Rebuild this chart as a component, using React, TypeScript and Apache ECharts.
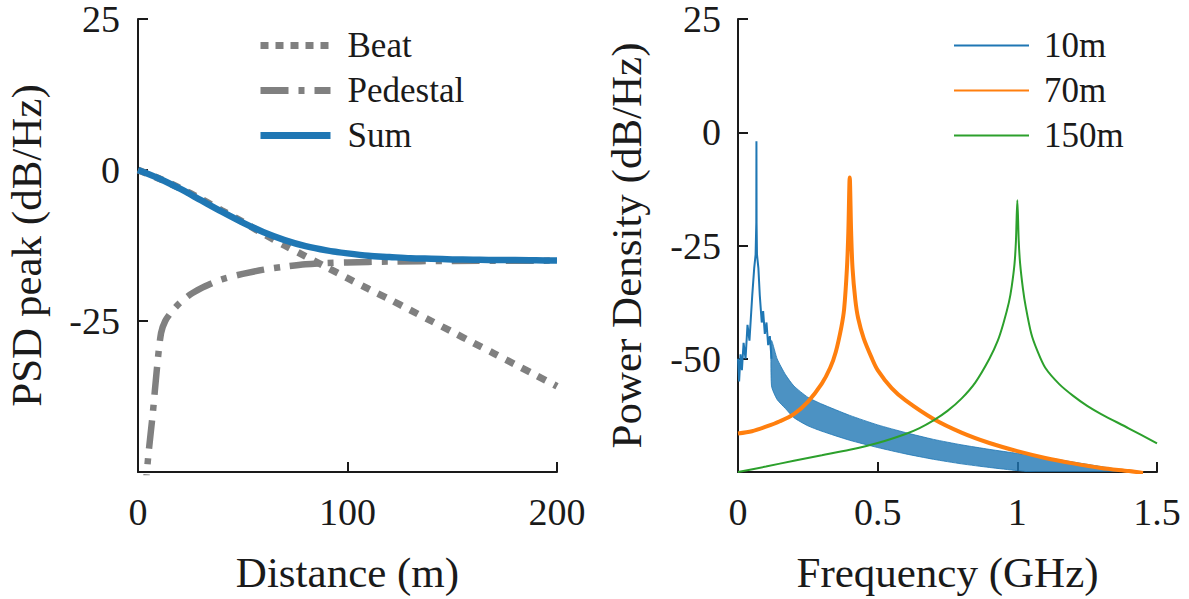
import React, { useEffect, useRef } from "react";
import * as echarts from "echarts";

// ---------- Left panel: PSD peak vs distance ----------
const distance = [0, 10, 20, 30, 40, 50, 60, 70, 80, 90, 100, 110, 120, 130, 140, 150, 160, 170, 180, 190, 200];
const beat = [0, -1.4, -3.0, -4.8, -6.7, -8.6, -10.6, -12.5, -14.3, -16.1, -17.9, -19.7, -21.4, -23.2, -25.0, -26.8, -28.6, -30.4, -32.2, -34.0, -35.8];
const sum = [0, -1.4, -3.1, -5.0, -6.9, -8.7, -10.3, -11.6, -12.6, -13.3, -13.8, -14.2, -14.4, -14.6, -14.7, -14.8, -14.85, -14.9, -14.9, -14.95, -15.0];
const pedestalDistance = [3, 5, 7, 9, 11, 13, 16, 20, 25, 30, 35, 40, 50, 60, 70, 80, 90, 100, 120, 150, 200];
const pedestal = [-55, -47, -40.5, -33, -27, -25, -23.5, -22, -20.6, -19.6, -18.8, -18.1, -17.2, -16.5, -16.0, -15.6, -15.4, -15.3, -15.15, -15.05, -15.0];

// ---------- Right panel: power density vs frequency ----------
const f10Lobe = [0, 0.004, 0.009, 0.014, 0.02, 0.027, 0.034, 0.041, 0.051, 0.058, 0.063, 0.0655, 0.066, 0.0665, 0.068, 0.073, 0.078, 0.085, 0.09, 0.096, 0.102, 0.108, 0.114, 0.12];
const p10Lobe = [-50, -55, -49, -52.5, -46.5, -50, -42.5, -46, -36, -30, -27, -20, -2, -20, -27, -30, -36, -42, -39.5, -44.5, -42, -47, -45, -50];
const f10Band = [0.12, 0.14, 0.17, 0.2, 0.25, 0.3, 0.4, 0.5, 0.6, 0.7, 0.8, 0.9, 1.0, 1.1, 1.2, 1.3, 1.4, 1.45];
const p10Upper = [-46, -50, -53.5, -56, -58.5, -60, -62.5, -64.6, -66.3, -67.8, -69.0, -70.0, -70.9, -71.8, -72.8, -73.8, -74.8, -75.3];
const p10Lower = [-56, -59, -61, -63, -64.8, -66, -68, -69.6, -71, -72.2, -73.2, -74, -74.7, -75.3, -75.8, -76.3, -76.8, -77];

const f70 = [0, 0.05, 0.1, 0.15, 0.2, 0.25, 0.3, 0.33, 0.35, 0.37, 0.38, 0.39, 0.395, 0.4, 0.405, 0.41, 0.42, 0.43, 0.45, 0.48, 0.5, 0.55, 0.6, 0.7, 0.8, 0.9, 1.0, 1.1, 1.2, 1.3, 1.4, 1.45];
const p70 = [-66.5, -66, -65, -63.8, -62.2, -59.5, -55.5, -52, -48.5, -43, -39, -30, -22, -10, -22, -30, -37, -41, -45.5, -50, -52.5, -56.5, -59.2, -63.3, -66.3, -68.6, -70.4, -71.9, -73.1, -74.1, -74.8, -75.2];

const f150 = [0, 0.1, 0.2, 0.3, 0.4, 0.5, 0.6, 0.65, 0.7, 0.75, 0.8, 0.85, 0.9, 0.93, 0.95, 0.97, 0.98, 0.99, 0.995, 1.0, 1.005, 1.01, 1.02, 1.03, 1.05, 1.07, 1.1, 1.15, 1.2, 1.25, 1.3, 1.4, 1.5];
const p150 = [-75, -73.8, -72.5, -71.3, -70.1, -68.6, -66.6, -65.3, -63.6, -61.5, -58.8, -55.2, -50, -46, -42.2, -37.5, -34, -29, -24, -15, -24, -29, -34.5, -38.5, -44.5, -48, -52, -55.6, -58.2, -60.4, -62.2, -65.4, -68.7];

const rightLegend = ["10m", "70m", "150m"];

const FONT = "'Liberation Serif', 'Times New Roman', serif";
const INK = "#1a1a1a";
const GREY = "#808080";
const BLUE = "#1f77b4";
const ORANGE = "#ff7f0e";
const GREEN = "#2ca02c";

const zip = (xs: number[], ys: number[]) => xs.map((x, i) => [x, ys[i]]);

function axisCommon() {
  return {
    axisLine: { show: true, onZero: false, lineStyle: { color: INK, width: 2 } },
    axisTick: { show: true, inside: true, length: 10, lineStyle: { color: INK, width: 2 } },
    splitLine: { show: false },
    axisLabel: { color: INK, fontFamily: FONT, fontSize: 38, lineHeight: 28 },
    nameTextStyle: { color: INK, fontFamily: FONT, fontSize: 43 },
    nameLocation: "middle" as const,
  };
}

export default function App() {
  const ref = useRef<HTMLDivElement>(null);
  useEffect(() => {
    document.body.style.margin = "0";
    if (!ref.current) return;
    const chart = echarts.init(ref.current, undefined, { renderer: "svg" });
    const c = axisCommon();
    const legendText = { fontFamily: FONT, fontSize: 35, color: INK, lineHeight: 35 };
    const option: any = {
      animation: false,
      backgroundColor: "#ffffff",
      textStyle: { fontFamily: FONT },
      grid: [
        { left: 138, top: 15, width: 419, height: 457 },
        { left: 738, top: 15, width: 419, height: 457 },
      ],
      xAxis: [
        {
          ...c, type: "value", gridIndex: 0, min: 0, max: 200, interval: 100,
          name: "Distance (m)", nameGap: 79,
          axisLabel: { ...c.axisLabel, margin: 26 },
        },
        {
          ...c, type: "value", gridIndex: 1, min: 0, max: 1.5, interval: 0.5,
          name: "Frequency (GHz)", nameGap: 79,
          axisLabel: { ...c.axisLabel, margin: 26, formatter: (v: number) => String(v) },
        },
      ],
      yAxis: [
        {
          ...c, type: "value", gridIndex: 0, min: -50, max: 25, interval: 25,
          name: "PSD peak (dB/Hz)", nameGap: 90,
          axisLabel: { ...c.axisLabel, margin: 18, formatter: (v: number) => (v === -50 ? "" : String(v)) },
        },
        {
          ...c, type: "value", gridIndex: 1, min: -75, max: 25, interval: 25,
          name: "Power Density (dB/Hz)", nameGap: 90,
          axisLabel: { ...c.axisLabel, margin: 17, formatter: (v: number) => (v === -75 ? "" : String(v)) },
        },
      ],
      legend: [
        {
          data: [
            { name: "Beat", lineStyle: { width: 7, type: [8, 7], color: GREY } },
            { name: "Pedestal", lineStyle: { width: 7, type: [28, 10, 6, 10], color: GREY } },
            { name: "Sum", lineStyle: { width: 7, color: BLUE } },
          ],
          orient: "vertical", left: 257, top: 28, padding: 0,
          itemWidth: 70, itemHeight: 14, itemGap: 10,
          itemStyle: { opacity: 0 },
          textStyle: { ...legendText, padding: [0, 0, 0, 12] },
        },
        {
          data: rightLegend.map((n) => ({ name: n, lineStyle: { width: 2 } })),
          orient: "vertical", left: 953, top: 28, padding: 0,
          itemWidth: 75, itemHeight: 14, itemGap: 10,
          itemStyle: { opacity: 0 },
          textStyle: { ...legendText, padding: [0, 0, 0, 10] },
        },
      ],
      series: [
        {
          name: "Beat", type: "line", xAxisIndex: 0, yAxisIndex: 0, showSymbol: false, symbol: "none",
          smooth: 0.3, data: zip(distance, beat),
          lineStyle: { color: GREY, width: 7, type: [9, 9] }, itemStyle: { color: GREY }, z: 2,
        },
        {
          name: "Pedestal", type: "line", xAxisIndex: 0, yAxisIndex: 0, showSymbol: false, symbol: "none",
          smooth: 0.3, data: zip(pedestalDistance, pedestal),
          lineStyle: { color: GREY, width: 6.5, type: [28, 10, 6, 10] }, itemStyle: { color: GREY }, z: 2,
        },
        {
          name: "Sum", type: "line", xAxisIndex: 0, yAxisIndex: 0, showSymbol: false, symbol: "none",
          smooth: 0.3, data: zip(distance, sum),
          lineStyle: { color: BLUE, width: 6.5 }, itemStyle: { color: BLUE }, z: 3,
        },
        {
          name: "10m band", type: "custom", xAxisIndex: 1, yAxisIndex: 1, clip: true,
          data: zip(f10Band, p10Upper),
          encode: { x: 0, y: 1 },
          renderItem: (params: any, api: any) => {
            if (params.dataIndex !== 0) return null;
            const top = f10Band.map((f, i) => api.coord([f, p10Upper[i]]));
            const bottom = f10Band.map((f, i) => api.coord([f, p10Lower[i]])).reverse();
            return {
              type: "polygon",
              shape: { points: top.concat(bottom), smooth: 0.2 },
              style: { fill: BLUE, opacity: 0.8, stroke: BLUE, lineWidth: 1 },
            };
          },
          z: 2,
        },
        {
          name: "10m", type: "line", xAxisIndex: 1, yAxisIndex: 1, symbol: "none",
          data: zip(f10Lobe, p10Lobe),
          lineStyle: { color: BLUE, width: 2 }, itemStyle: { color: BLUE }, z: 2,
        },
        {
          name: "70m", type: "line", xAxisIndex: 1, yAxisIndex: 1, symbol: "none", smooth: 0.3,
          data: zip(f70, p70),
          lineStyle: { color: ORANGE, width: 4 }, itemStyle: { color: ORANGE }, z: 3,
        },
        {
          name: "150m", type: "line", xAxisIndex: 1, yAxisIndex: 1, symbol: "none", smooth: 0.3,
          data: zip(f150, p150),
          lineStyle: { color: GREEN, width: 2 }, itemStyle: { color: GREEN }, z: 4,
        },
      ],
    };
    chart.setOption(option);
    return () => chart.dispose();
  }, []);
  return <div ref={ref} style={{ width: 1189, height: 599 }} />;
}
